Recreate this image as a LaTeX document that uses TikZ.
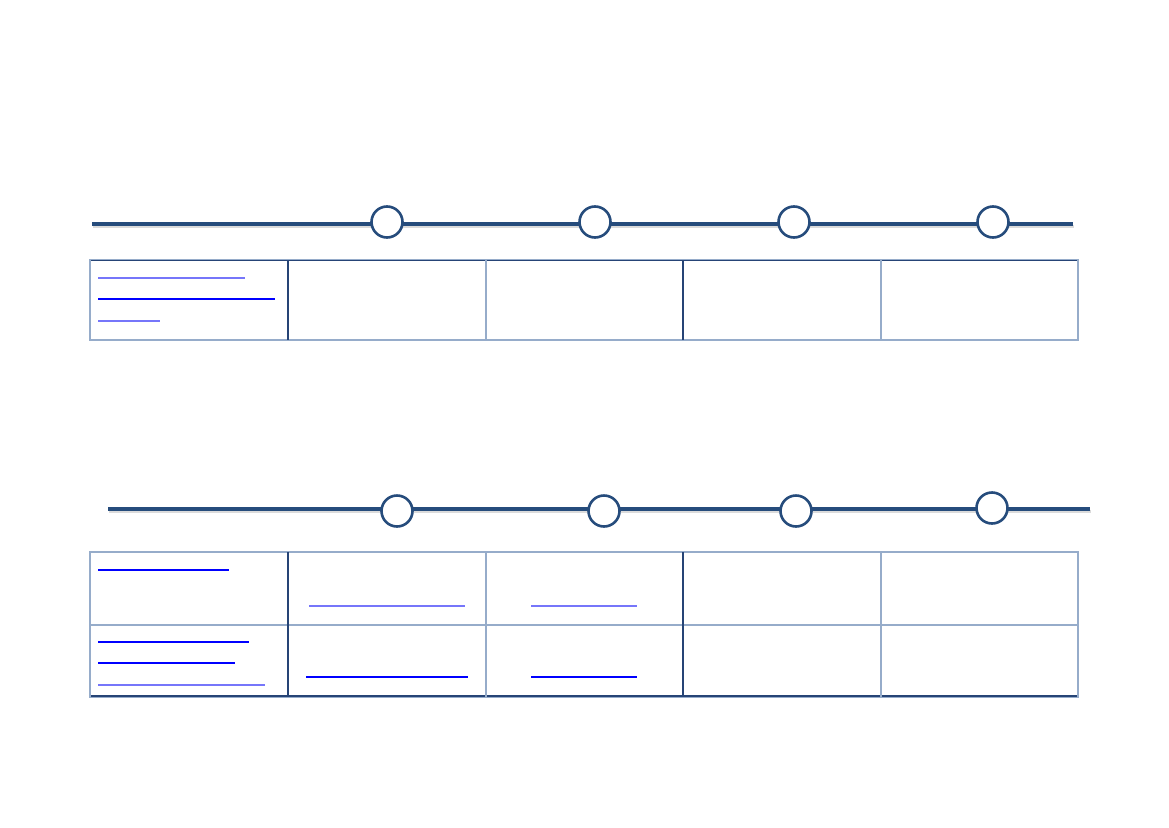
\documentclass[tikz,border=0pt]{standalone}
\usepackage{tikz}
\usetikzlibrary{positioning,calc}
\usepackage{xcolor}
\definecolor{lineblue}{RGB}{38,76,124}
\definecolor{gridlight}{RGB}{150,172,202}
\definecolor{griddark}{RGB}{38,68,118}
\definecolor{linkblue}{RGB}{0,0,255}
\definecolor{linkpale}{RGB}{118,118,250}

\begin{document}
\begin{tikzpicture}[
    x=1pt, y=-1pt,
    axis/.style={lineblue, line width=4pt},
    axisshadow/.style={black!14, line width=3pt},
    milestone/.style={circle, draw=lineblue, line width=2.6pt, fill=white, minimum size=31pt, inner sep=0pt},
    frame/.style={gridlight, line width=2.4pt},
    rule/.style={griddark, line width=1.1pt},
    softrule/.style={gridlight, line width=1.1pt},
    link/.style={linkblue, line width=1.3pt},
    palelink/.style={linkpale, line width=1.4pt}
]
\useasboundingbox (0,0) rectangle (1169,827);

% Upper timeline
\coordinate (top_start) at (92,224);
\coordinate (top_end) at (1073,224);
\draw[axisshadow] ($(top_start)+(1,2.5)$) -- ($(top_end)+(1,2.5)$);
\draw[axis] (top_start) -- (top_end);
\foreach \x [count=\i] in {387,595,794,993}
  \node[milestone] (top_m\i) at (\x,222) {};

% Upper table
\draw[frame] (90,260) rectangle (1078,340);
\draw[rule] (91,260.5) -- (1077,260.5);
\foreach \x/\s in {288/rule,486/softrule,683/rule,881/softrule}
  \draw[\s] (\x,260) -- (\x,340);
\foreach \xa/\xb/\y/\s in {98/245/278/palelink,98/275/299/link,98/160/321/palelink}
  \draw[\s] (\xa,\y) -- (\xb,\y);

% Lower timeline
\coordinate (low_start) at (108,509);
\coordinate (low_end) at (1090,509);
\draw[axisshadow] ($(low_start)+(1,2.5)$) -- ($(low_end)+(1,2.5)$);
\draw[axis] (low_start) -- (low_end);
\foreach \x/\y [count=\i] in {397/511,604/511,796/511,992/508}
  \node[milestone] (low_m\i) at (\x,\y) {};

% Lower table
\draw[frame] (90,552) rectangle (1078,697);
\draw[rule] (91,696) -- (1077,696);
\draw[softrule] (90,625) -- (1078,625);
\foreach \x/\s in {288/rule,486/softrule,683/rule,881/softrule}
  \draw[\s] (\x,552) -- (\x,697);
\foreach \xa/\xb/\y/\s in {98/229/570/link,309/465/606/palelink,531/637/606/palelink,
    98/249/642/link,98/235/663/link,98/265/685/palelink,306/468/677/link,531/637/677/link}
  \draw[\s] (\xa,\y) -- (\xb,\y);

\end{tikzpicture}
\end{document}
